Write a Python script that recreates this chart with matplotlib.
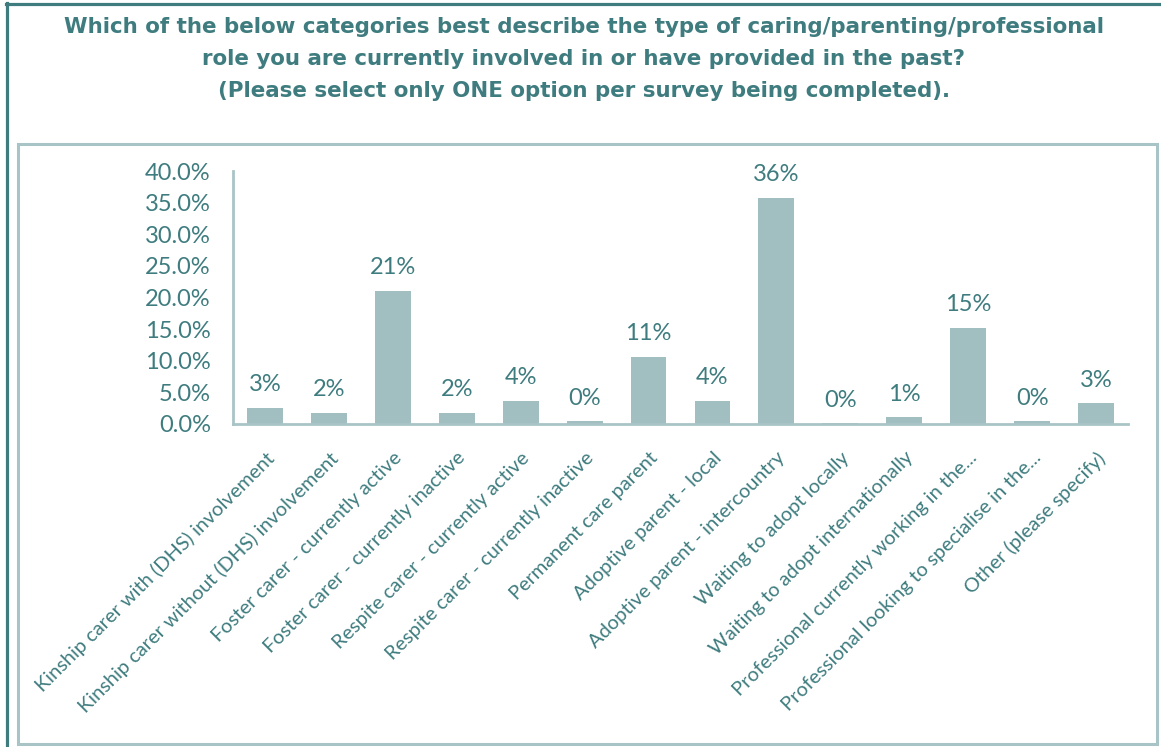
import matplotlib.pyplot as plt
from matplotlib.patches import Rectangle
from matplotlib.lines import Line2D
from matplotlib.ticker import FuncFormatter

# Survey responses: share of respondents per role
categories = [
    'Kinship carer with (DHS) involvement',
    'Kinship carer without (DHS) involvement',
    'Foster carer - currently active',
    'Foster carer - currently inactive',
    'Respite carer - currently active',
    'Respite carer - currently inactive',
    'Permanent care parent',
    'Adoptive parent - local',
    'Adoptive parent - intercountry',
    'Waiting to adopt locally',
    'Waiting to adopt internationally',
    'Professional currently working in the...',
    'Professional looking to specialise in the...',
    'Other (please specify)',
]
shares = [2.6, 1.8, 21.1, 1.8, 3.7, 0.4, 10.6, 3.7, 35.8, 0.1, 1.1, 15.2, 0.4, 3.3]
yticks = [0, 5, 10, 15, 20, 25, 30, 35, 40]

title = ('Which of the below categories best describe the type of caring/parenting/professional\n'
         'role you are currently involved in or have provided in the past?\n'
         '(Please select only ONE option per survey being completed).')

teal = '#3f7c7f'
bar_col = '#a1bec1'
axis_col = '#a9c4c6'

W, H = 1161, 747
fig = plt.figure(figsize=(W / 100, H / 100), dpi=100)

# frame lines around the whole graphic
fig.add_artist(Line2D([6 / W, 1], [1 - 3.5 / H, 1 - 3.5 / H], color=teal, lw=2.3,
                      transform=fig.transFigure))
fig.add_artist(Line2D([7 / W, 7 / W], [0, 1 - 2.5 / H], color=teal, lw=2.3,
                      transform=fig.transFigure))
fig.add_artist(Rectangle((18 / W, 1 - 744 / H), (1157 - 18) / W, (744 - 144) / H,
                         fill=False, ec=axis_col, lw=2.2, transform=fig.transFigure))

fig.text(0.503, 1 - 59 / H, title, ha='center', va='center', color=teal,
         fontsize=15.4, fontweight='bold', family='DejaVu Sans', linespacing=1.72)

ax = fig.add_axes([233 / W, 1 - 424 / H, (1128 - 233) / W, 253 / H])
x = range(len(categories))
ax.bar(x, shares, width=0.56, color=bar_col)

for xi, v in zip(x, shares):
    ax.annotate(f'{v:.0f}%', (xi, v), xytext=(0, 9), textcoords='offset points',
                ha='center', va='bottom', color=teal, fontsize=17, family='Lato')

ax.set_xlim(-0.5, len(categories) - 0.5)
ax.set_ylim(0, 40)
ax.set_yticks(yticks)
ax.yaxis.set_major_formatter(FuncFormatter(lambda v, p: f'{v:.1f}%'))
ax.set_xticks(list(x))
ax.set_xticklabels(categories, rotation=45, ha='right', rotation_mode='anchor',
                   fontsize=14.4, family='Lato', color=teal)
for lab in ax.get_yticklabels():
    lab.set_family('Lato')
    lab.set_fontsize(17)
    lab.set_color(teal)
ax.tick_params(axis='y', length=0, pad=16)
ax.tick_params(axis='x', length=0, pad=18)

for side in ['top', 'right']:
    ax.spines[side].set_visible(False)
for side in ['left', 'bottom']:
    ax.spines[side].set_color(axis_col)
    ax.spines[side].set_linewidth(2)

fig.savefig('out.png', dpi=100)
